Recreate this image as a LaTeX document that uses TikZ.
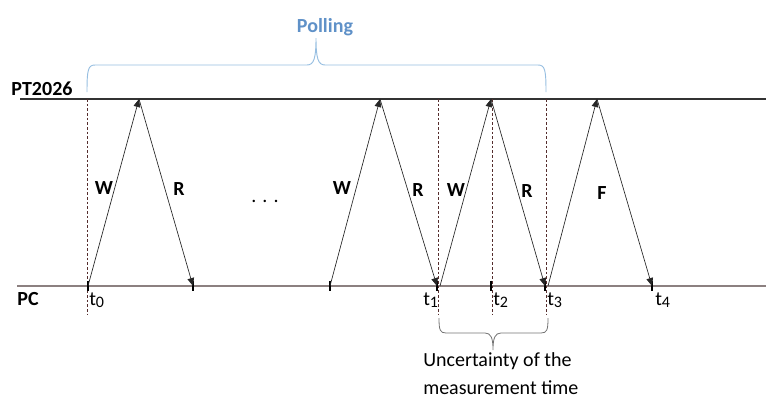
\documentclass[tikz,border=0pt]{standalone}
\usepackage{fontspec}
\setmainfont{Carlito}
\usetikzlibrary{arrows.meta}

\definecolor{pollblue}{RGB}{95,145,200}
\definecolor{pollbrace}{RGB}{150,190,225}
\definecolor{pcgray}{RGB}{140,128,128}
\definecolor{markred}{RGB}{85,45,45}
\newcommand{\tsub}[1]{t\raisebox{-2.2pt}{\fontsize{12}{13}\selectfont #1}}

\begin{document}
\begin{tikzpicture}[
		% pixel-like units, y pointing down
		x=0.75pt, y=-0.75pt,
		font=\fontsize{15}{18}\selectfont,
		msg/.style={-{Triangle[length=6pt,width=5pt]}, line width=0.5pt, black!85},
		evtick/.style={line width=1.6pt, black},
		timemark/.style={line width=0.4pt, markred, dash pattern=on 2pt off 1.5pt},
		lbl/.style={font=\fontsize{15}{18}\selectfont\bfseries, anchor=base, inner sep=0pt},
		tlbl/.style={anchor=base west, inner sep=0pt}
		]
		\useasboundingbox (0,0) rectangle (766,397);
		
		% ==========================================
		% 1. The two time lines
		% ==========================================
		\coordinate (ptL) at (20,99);
		\coordinate (ptR) at (766,99);
		\coordinate (pcL) at (17,286);
		\coordinate (pcR) at (766,286);
		\draw[line width=1pt, black!80] (ptL) -- (ptR);
		\draw[line width=1.4pt, pcgray] (pcL) -- (pcR);
		
		\node[lbl] (ptname) at (42,95) {PT2026};
		\node[lbl] (pcname) at (28,305) {PC};
		
		% ==========================================
		% 2. Dashed time marks
		% ==========================================
		\foreach \xm in {87,438,492,546} {
			\draw[timemark] (\xm,99) -- (\xm,315);
		}
		
		% ==========================================
		% 3. Events on both lines
		% ==========================================
		\coordinate (top1) at (139,99);
		\coordinate (top2) at (380,99);
		\coordinate (top3) at (491,99);
		\coordinate (top4) at (597,99);
		
		\coordinate (e0) at (88,286);
		\coordinate (e1) at (193,286);
		\coordinate (e2) at (330,286);
		\coordinate (e3) at (437,286);
		\coordinate (e3b) at (440,286);
		\coordinate (e4) at (491,286);
		\coordinate (e5) at (545,286);
		\coordinate (e5b) at (548,286);
		\coordinate (e6) at (652,286);
		
		\foreach \p in {e0,e1,e2,e3,e4,e5,e6} {
			\draw[evtick] ([yshift=4pt]\p) -- ([yshift=-4pt]\p);
		}
		
		% Write / read cycles
		\draw[msg] (e0) -- (top1);
		\draw[msg] (top1) -- (e1);
		\draw[msg] (e2) -- (top2);
		\draw[msg] (top2) -- (e3);
		\draw[msg] (e3b) -- (top3);
		\draw[msg] (top3) -- (e5);
		\draw[msg] (e5b) -- (top4);
		\draw[msg] (top4) -- (e6);
		
		\node[lbl] (w1) at (104,194) {W};
		\node[lbl] (r1) at (179,195) {R};
		\node[anchor=base, inner sep=0pt] (dots) at (265,202) {.\hspace{4.5pt}.\hspace{4.5pt}.};
		\node[lbl] (w2) at (342,194) {W};
		\node[lbl] (r2) at (418,196) {R};
		\node[lbl] (w3) at (456,196) {W};
		\node[lbl] (r3) at (527,197) {R};
		\node[lbl] (f1) at (602,199) {F};
		
		% Time stamps
		\node[tlbl] (t0) at (89,305) {\tsub{0}};
		\node[tlbl] (t1) at (423,305) {\tsub{1}};
		\node[tlbl] (t2) at (493,305) {\tsub{2}};
		\node[tlbl] (t3) at (547,305) {\tsub{3}};
		\node[tlbl] (t4) at (655,305) {\tsub{4}};
		
		% ==========================================
		% 4. Braces
		% ==========================================
		\draw[pollbrace, line width=0.7pt] (87,92) .. controls (87,70) and (88,65) .. (95,65) -- (307,65)
		.. controls (314,65) and (316,58) .. (316,38)
		.. controls (316,58) and (318,65) .. (325,65) -- (538,65)
		.. controls (545,65) and (546,70) .. (546,92);
		\node[lbl, text=pollblue] (poll) at (325,32) {Polling};
		
		\draw[black!55, line width=0.6pt] (439,318) .. controls (439,330) and (440,333) .. (446,333) -- (485,333)
		.. controls (491,333) and (493,338) .. (493,350)
		.. controls (493,338) and (495,333) .. (501,333) -- (541,333)
		.. controls (547,333) and (548,330) .. (548,318);
		\node[anchor=base west, inner sep=0pt, align=left, font=\fontsize{15}{20.5}\selectfont] (unc) at (423,394) {Uncertainty of the\\measurement time};
		
	\end{tikzpicture}
\end{document}
